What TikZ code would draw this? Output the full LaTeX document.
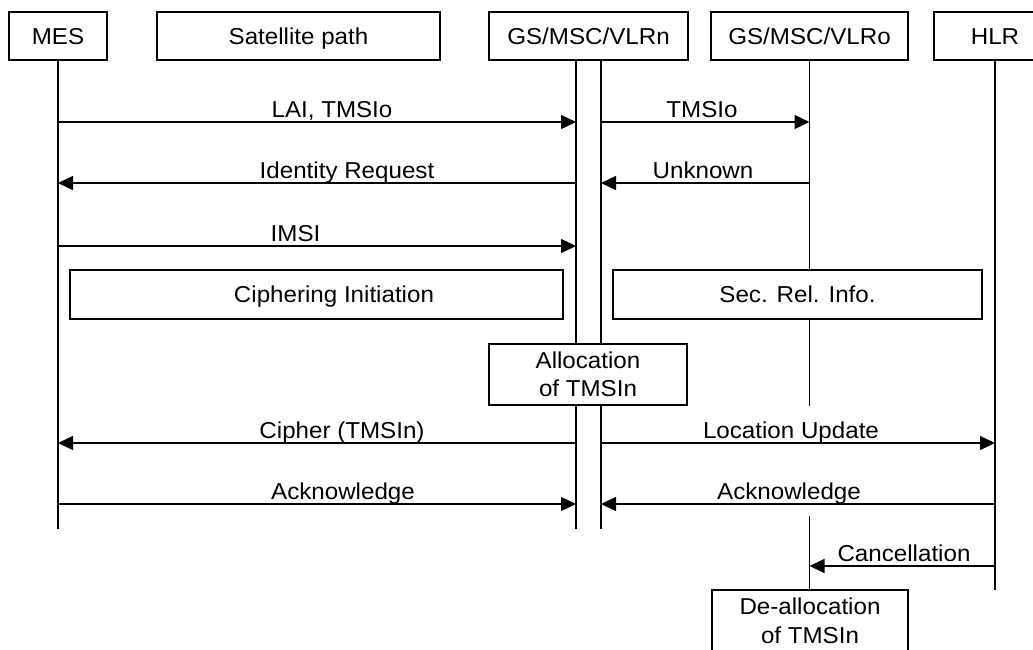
\documentclass[tikz,border=0pt]{standalone}
\usepackage{fontspec}
\setmainfont[FakeStretch=1.05]{Liberation Sans}
\usetikzlibrary{arrows.meta}
\begin{document}
\begin{tikzpicture}[x=1pt,y=-1pt,
  every node/.style={font=\fontsize{23}{28.5}\selectfont, inner sep=0pt},
  life/.style={line width=1.3pt},
  msg/.style={line width=1.3pt, -{Triangle[length=15pt,width=14pt]}},
  hdr/.style={draw, line width=1.3pt, fill=white, minimum height=48pt,
              text height=16.4pt, text depth=0pt},
  actbox/.style={draw, line width=1.3pt, fill=white},
  oneline/.style={text height=16.4pt, text depth=0pt},
  twoline/.style={align=center},
  lbl/.style={anchor=base}
]
% page frame
\path[use as bounding box] (0,0) rectangle (1033,649);
\clip (0,0) rectangle (1033,649);

% entity headers
\node[hdr, minimum width=98pt]  (mes)  at (58,36)    {MES};
\node[hdr, minimum width=283pt] (sat)  at (298.5,36) {Satellite path};
\node[hdr, minimum width=199pt] (vlrn) at (588.5,36) {GS/MSC/VLRn};
\node[hdr, minimum width=197pt] (vlro) at (809.5,36) {GS/MSC/VLRo};
\node[hdr, minimum width=122pt] (hlr)  at (995,36)   {HLR};

% message rows and lifeline anchors
\coordinate (nl) at (576,60);
\coordinate (nr) at (601,60);
\coordinate (r1) at (0,122);
\coordinate (r2) at (0,183);
\coordinate (r3) at (0,246);
\coordinate (r4) at (0,443);
\coordinate (r5) at (0,504);
\coordinate (r6) at (0,566);
\coordinate (yend) at (0,529);
\coordinate (ogap1) at (0,406);
\coordinate (ogap2) at (0,516);
\coordinate (hend) at (0,590);

% procedure boxes
\node[actbox, minimum width=493pt, minimum height=49pt] (ciph) at (316.5,294.5) {};
\node[oneline] (ciphtxt) at (334,294.5) {Ciphering Initiation};
\node[actbox, oneline, minimum width=369pt, minimum height=49pt] (sec) at (797.5,294.5) {Sec. Rel. Info.};
\node[actbox, twoline, minimum width=198pt, minimum height=61pt] (alloc) at (588,374.5) {Allocation\\of TMSIn};
\node[actbox, twoline, minimum width=196pt, minimum height=62pt] (dealloc) at (810,621) {De-allocation\\of TMSIn};

% lifelines
\draw[life] (mes.south) -- (mes.south |- yend);
\draw[life] (nl) -- (nl |- alloc.north);
\draw[life] (nl |- alloc.south) -- (nl |- yend);
\draw[life] (nr) -- (nr |- alloc.north);
\draw[life] (nr |- alloc.south) -- (nr |- yend);
\draw[life] (vlro.south) -- (vlro.south |- sec.north);
\draw[life] (vlro.south |- sec.south) -- (vlro.south |- ogap1);
\draw[life] (vlro.south |- ogap2) -- (vlro.south |- dealloc.north);
\draw[life] (hlr.south) -- (hlr.south |- hend);

% messages
\draw[msg] (mes.south |- r1) -- (nl |- r1);
\node[lbl] (t1) at (332,117) {LAI, TMSIo};
\draw[msg] (nr |- r1) -- (vlro.south |- r1);
\node[lbl] (t2) at (702,117) {TMSIo};

\draw[msg] (nl |- r2) -- (mes.south |- r2);
\node[lbl] (t3) at (347,178) {Identity Request};
\draw[msg] (vlro.south |- r2) -- (nr |- r2);
\node[lbl] (t4) at (703,178) {Unknown};

\draw[msg] (mes.south |- r3) -- (nl |- r3);
\node[lbl] (t5) at (295.5,241) {IMSI};

\draw[msg] (nl |- r4) -- (mes.south |- r4);
\node[lbl] (t6) at (342,438) {Cipher (TMSIn)};
\draw[msg] (nr |- r4) -- (hlr.south |- r4);
\node[lbl] (t7) at (791,438) {Location Update};

\draw[msg] (mes.south |- r5) -- (nl |- r5);
\node[lbl] (t8) at (343,499) {Acknowledge};
\draw[msg] (hlr.south |- r5) -- (nr |- r5);
\node[lbl] (t9) at (789,499) {Acknowledge};

\draw[msg] (hlr.south |- r6) -- (vlro.south |- r6);
\node[lbl] (t10) at (904,561) {Cancellation};
\end{tikzpicture}
\end{document}
